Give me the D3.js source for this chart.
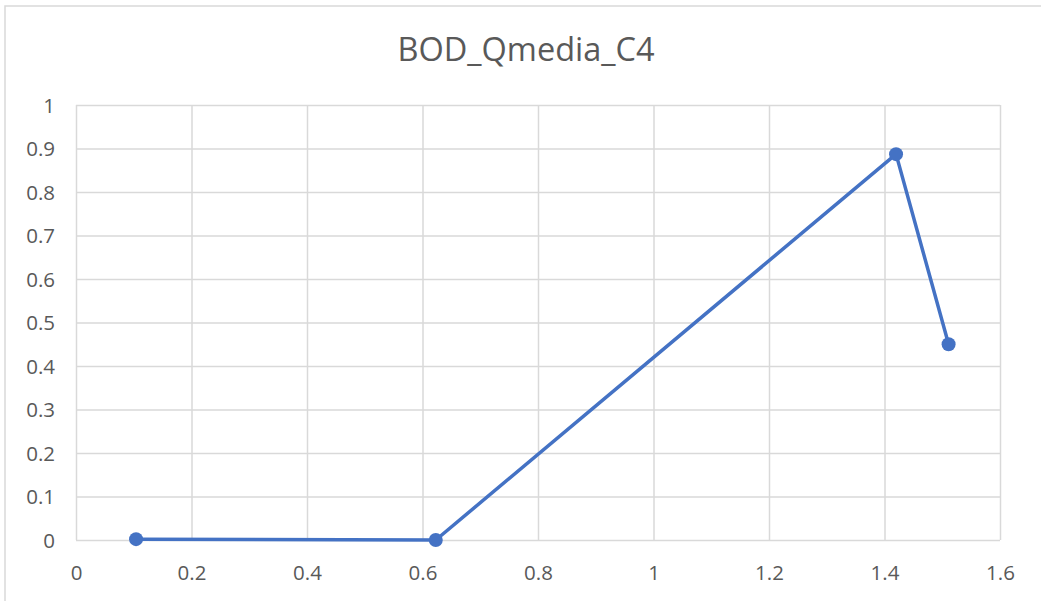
<!DOCTYPE html>
<html><head><meta charset="utf-8">
<script src="https://cdn.jsdelivr.net/npm/d3@7"></script>
<style>body{margin:0;background:#fff;}svg{display:block;}</style>
</head><body>
<script>
const title = "BOD_Qmedia_C4";
const xValues = [0.104, 0.623, 1.420, 1.511];
const yValues = [0.002, 0.000, 0.887, 0.450];
const xTicks = [0, 0.2, 0.4, 0.6, 0.8, 1, 1.2, 1.4, 1.6];
const yTicks = [0, 0.1, 0.2, 0.3, 0.4, 0.5, 0.6, 0.7, 0.8, 0.9, 1];

const W = 1041, H = 601;
const svg = d3.select("body").append("svg").attr("width", W).attr("height", H);
const font = "'Open Sans', sans-serif";
const x = d3.scaleLinear().domain([0, 1.6]).range([76, 1000]);
const y = d3.scaleLinear().domain([0, 1]).range([540, 105]);

// chart border (top & left)
svg.append("path").attr("d", `M5,601 V6 H1041`).attr("fill","none").attr("stroke","#d9d9d9").attr("stroke-width",1.5);

// grid
const gx = svg.append("g").attr("transform","translate(0,540)")
  .call(d3.axisBottom(x).tickValues(xTicks).tickSize(-435).tickPadding(12).tickFormat(d3.format("~g")));
const gy = svg.append("g").attr("transform","translate(76,0)")
  .call(d3.axisLeft(y).tickValues(yTicks).tickSize(-924).tickPadding(12).tickFormat(d3.format("~g")));
[gx, gy].forEach(g => {
  g.select(".domain").remove();
  g.selectAll(".tick line").attr("stroke","#d9d9d9").attr("stroke-width",1.5);
  g.selectAll(".tick text").attr("fill","#595959").style("font-family",font).style("font-size","20.5px");
});
gx.selectAll(".tick text").attr("dy","0.71em").attr("y", 25);
gy.selectAll(".tick text").attr("x", -21).attr("dy","0.35em");

// title
svg.append("text").attr("x", 526).attr("y", 61).attr("text-anchor","middle")
  .attr("fill","#595959").style("font-family",font).style("font-size","32.5px").text(title);

const data = xValues.map((v,i)=>({x:v,y:yValues[i]}));
svg.append("path").datum(data)
  .attr("d", d3.line().x(d=>x(d.x)).y(d=>y(d.y)))
  .attr("fill","none").attr("stroke","#4472c4").attr("stroke-width",3.5).attr("stroke-linejoin","round");
svg.selectAll("circle.pt").data(data).join("circle").attr("class","pt")
  .attr("cx", d=>x(d.x)).attr("cy", d=>y(d.y)).attr("r", 7).attr("fill","#4472c4");
</script>
</body></html>
